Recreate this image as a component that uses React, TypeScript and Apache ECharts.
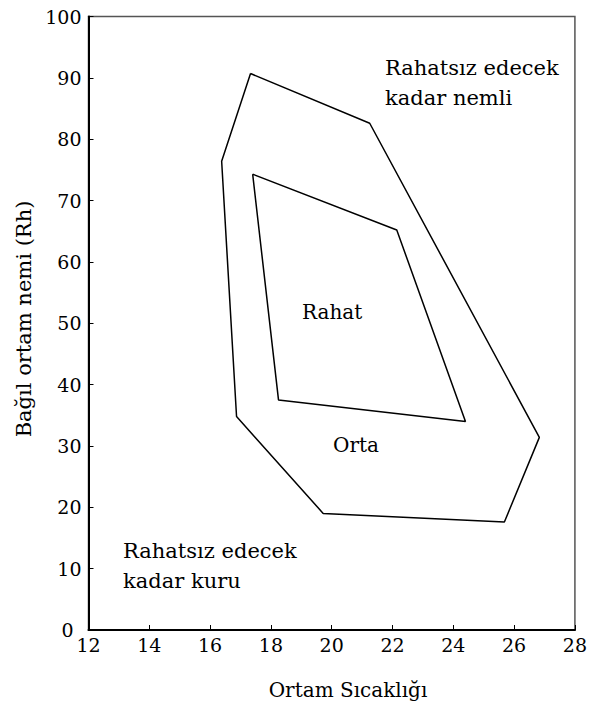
import React, { useEffect, useRef } from "react";
import * as echarts from "echarts";

const outerZone: [number, number][] = [
  [17.33, 90.7],
  [21.25, 82.6],
  [26.83, 31.4],
  [25.68, 17.6],
  [19.72, 19.0],
  [16.87, 34.8],
  [16.38, 76.4],
  [17.33, 90.7],
];

const innerZone: [number, number][] = [
  [17.4, 74.3],
  [22.14, 65.2],
  [24.4, 34.0],
  [18.25, 37.5],
  [17.4, 74.3],
];

const xTicks = { min: 12, max: 28, interval: 2 };
const yTicks = { min: 0, max: 100, interval: 10 };

const FONT = "'DejaVu Serif', serif";

export default function App() {
  const ref = useRef<HTMLDivElement>(null);
  useEffect(() => {
    if (!ref.current) return;
    const chart = echarts.init(ref.current, undefined, { renderer: "svg" });
    const txt = (text: string, x: number, y: number, size = 21, align = "left") => ({
      type: "text",
      x,
      y,
      style: {
        text,
        fill: "#000",
        fontFamily: FONT,
        fontSize: size,
        align,
        verticalAlign: "middle",
      },
    });
    chart.setOption({
      animation: false,
      backgroundColor: "#fff",
      textStyle: { fontFamily: FONT },
      grid: {
        left: 88.5,
        right: 11.5,
        top: 16.5,
        bottom: 76,
        show: true,
        borderColor: "#555",
        borderWidth: 1.5,
      },
      xAxis: {
        type: "value",
        min: xTicks.min,
        max: xTicks.max,
        interval: xTicks.interval,
        splitLine: { show: false },
        axisLine: { show: true, lineStyle: { color: "#000", width: 2 } },
        axisTick: { show: true, inside: true, length: 5, lineStyle: { color: "#000", width: 1 } },
        axisLabel: { color: "#000", fontFamily: FONT, fontSize: 19, margin: 5 },
      },
      yAxis: {
        type: "value",
        min: yTicks.min,
        max: yTicks.max,
        interval: yTicks.interval,
        splitLine: { show: false },
        axisLine: { show: true, lineStyle: { color: "#000", width: 2 } },
        axisTick: { show: true, inside: true, length: 5, lineStyle: { color: "#000", width: 1 } },
        axisLabel: {
          color: "#000",
          fontFamily: FONT,
          fontSize: 19,
          margin: 7,
          formatter: (v: number) => (v === 0 ? "{z|0}" : String(v)),
          rich: {
            z: { fontFamily: FONT, fontSize: 19, color: "#000", padding: [0, 8, 0, 0] },
          },
        },
      },
      series: [
        {
          type: "line",
          data: outerZone,
          symbol: "none",
          lineStyle: { color: "#000", width: 1.5 },
        },
        {
          type: "line",
          data: innerZone,
          symbol: "none",
          lineStyle: { color: "#000", width: 1.5 },
        },
      ],
      graphic: [
        txt("Rahatsız edecek", 385, 68),
        txt("kadar nemli", 385, 98),
        txt("Rahat", 302, 312, 20),
        txt("Orta", 333, 445, 20),
        txt("Rahatsız edecek", 123, 551),
        txt("kadar kuru", 123, 581),
        txt("Ortam Sıcaklığı", 348, 690, 20, "center"),
        {
          type: "text",
          x: 24,
          y: 319,
          rotation: Math.PI / 2,
          style: {
            text: "Bağıl ortam nemi (Rh)",
            fill: "#000",
            fontFamily: FONT,
            fontSize: 21,
            align: "center",
            verticalAlign: "middle",
          },
        },
      ],
    });
    return () => chart.dispose();
  }, []);
  return (
    <div
      ref={ref}
      style={{ position: "fixed", left: 0, top: 0, width: 590, height: 706 }}
    />
  );
}
